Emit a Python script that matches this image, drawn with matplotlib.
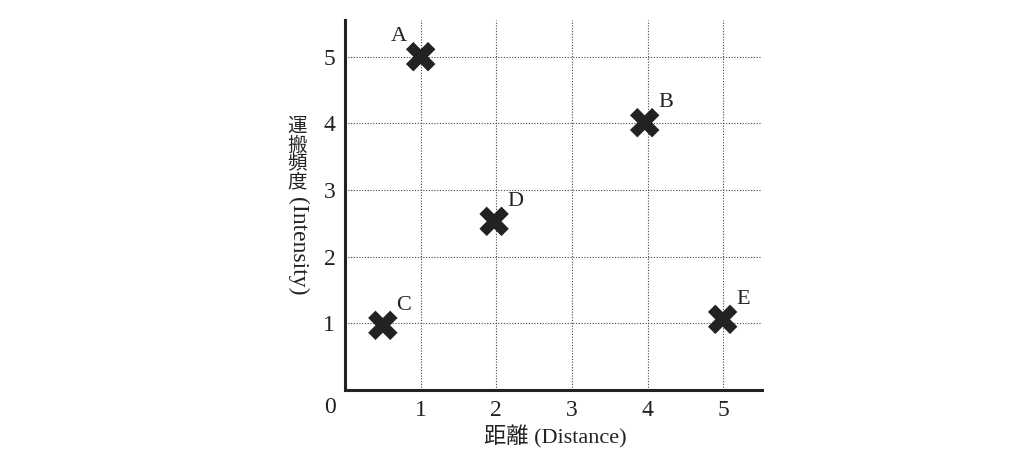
import matplotlib.pyplot as plt

plt.rcParams['font.family'] = ['Liberation Serif', 'Noto Sans CJK JP']

names = ['A', 'B', 'C', 'D', 'E']
distance = [1.0, 3.96, 0.5, 1.97, 4.99]
intensity = [5.0, 4.01, 0.97, 2.53, 1.06]
ticks = [1, 2, 3, 4, 5]
ylabel_jp = '運搬頻度'
ylabel_en = '(Intensity)'

fig = plt.figure(figsize=(10.32, 4.72), dpi=100)
ax = fig.add_axes([0.3343, 0.1737, 0.4041, 0.7839])

ax.set_xlim(0, 5.51)
ax.set_ylim(0, 5.55)
ax.set_xticks(ticks)
ax.set_yticks(ticks)
ax.tick_params(length=0, labelsize=17, colors='#222222')
ax.tick_params(axis='x', pad=7)
ax.tick_params(axis='y', pad=7)
ax.grid(True, color='#444444', linestyle=(0, (1, 1.5)), linewidth=0.8)
ax.set_axisbelow(True)
for s in ['top', 'right']:
    ax.spines[s].set_visible(False)
for s in ['left', 'bottom']:
    ax.spines[s].set_linewidth(2.2)
    ax.spines[s].set_color('#222222')

ax.scatter(distance, intensity, marker='X', s=450, color='#222222',
           edgecolors='none', zorder=3)

for n, x, y in zip(names, distance, intensity):
    if n == 'A':
        off = (-22, 20)
    else:
        off = (21, 20)
    ax.annotate(n, (x, y), xytext=off, textcoords='offset pixels',
                ha='center', va='center', fontsize=16, color='#222222')

ax.annotate('0', (0, 0), xytext=(-15, -17), textcoords='offset pixels',
            ha='center', va='center', fontsize=17, color='#222222',
            annotation_clip=False)

# x label
fig.text(555 / 1032, 1 - 437 / 472, '距離 (Distance)', ha='center', va='center',
         fontsize=16, color='#222222')

# vertical y label: kanji upright one by one, latin rotated
for i, ch in enumerate(ylabel_jp):
    fig.text(297 / 1032, 1 - (127 + 18.5 * i) / 472, ch, ha='center',
             va='center', fontsize=14, color='#222222')
fig.text(298 / 1032, 1 - 197 / 472, ylabel_en, ha='center', va='top',
         rotation=-90, fontsize=17, color='#222222')

fig.savefig('out.png', dpi=100)
